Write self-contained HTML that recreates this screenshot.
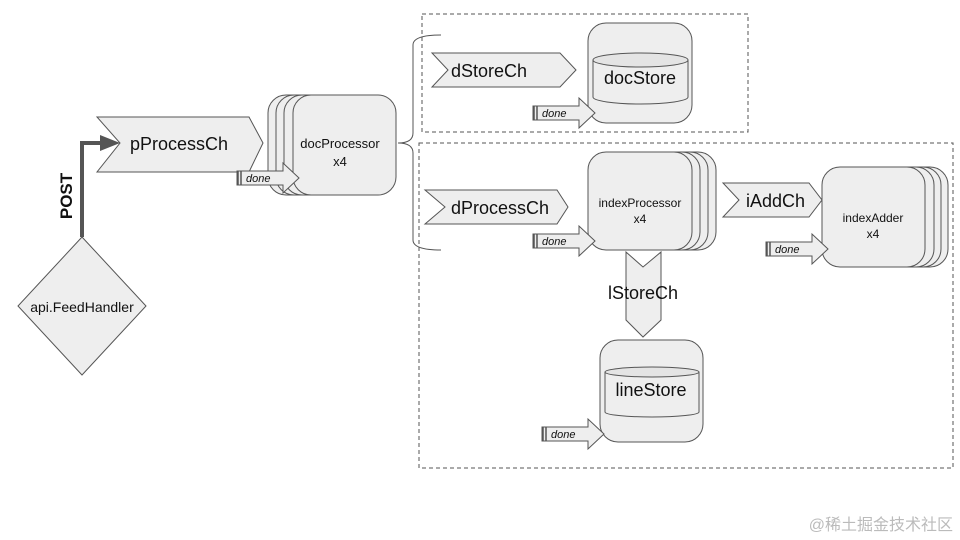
<!DOCTYPE html>
<html><head><meta charset="utf-8"><style>
html,body{margin:0;padding:0;background:#fff;width:960px;height:540px;overflow:hidden}
svg{display:block}
text{font-family:"Liberation Sans",Arial,sans-serif;fill:#111}
</style></head><body>
<svg width="960" height="540" viewBox="0 0 960 540" xmlns="http://www.w3.org/2000/svg">
<defs>
<g id="done">
<polygon points="0,-7 46,-7 46,-15 62,0 46,15 46,7 0,7" fill="#eee" stroke="#555" stroke-width="1"/>
<line x1="1" y1="-7" x2="1" y2="7" stroke="#555" stroke-width="1.5"/>
<line x1="4" y1="-7" x2="4" y2="7" stroke="#555" stroke-width="1.5"/>
<text x="9" y="4" font-size="11" font-style="italic">done</text>
</g>
</defs>
<g fill="#eee" stroke="#555" stroke-width="1">
<!-- dashed boxes -->
<rect x="422" y="14" width="326" height="118" fill="none" stroke-dasharray="4,3"/>
<rect x="419" y="143" width="534" height="325" fill="none" stroke-dasharray="4,3"/>
<!-- brace -->
<path d="M441,35 Q413,35 413,45 L413,133 Q413,143 398,143 Q413,143 413,153 L413,240 Q413,250 441,250" fill="none"/>
<!-- diamond -->
<polygon points="82,237 146,306 82,375 18,306"/>
<!-- pProcessCh -->
<polygon points="97,117 249,117 263,143 249,172 97,172 120,143"/>
<!-- docProcessor stack -->
<rect x="268" y="95" width="104" height="100" rx="18"/>
<rect x="276" y="95" width="104" height="100" rx="18"/>
<rect x="284" y="95" width="104" height="100" rx="18"/>
<rect x="293" y="95" width="103" height="100" rx="18"/>
<!-- dStoreCh -->
<polygon points="432,53 560,53 576,70 560,87 432,87 448,70"/>
<!-- docStore -->
<rect x="588" y="23" width="104" height="100" rx="18"/>
<path d="M593,60 L593,97 A47.5,7 0 0 0 688,97 L688,60" fill="#eee"/>
<ellipse cx="640.5" cy="60" rx="47.5" ry="7" fill="#e4e4e4"/>
<!-- dProcessCh -->
<polygon points="425,190 557,190 568,207 557,224 425,224 445,207"/>
<!-- indexProcessor stack -->
<rect x="612" y="152" width="104" height="98" rx="18"/>
<rect x="604" y="152" width="104" height="98" rx="18"/>
<rect x="596" y="152" width="104" height="98" rx="18"/>
<rect x="588" y="152" width="104" height="98" rx="18"/>
<!-- iAddCh -->
<polygon points="723,183 809,183 822,200 809,217 723,217 739,200"/>
<!-- indexAdder stack -->
<rect x="845" y="167" width="103" height="100" rx="18"/>
<rect x="838" y="167" width="103" height="100" rx="18"/>
<rect x="831" y="167" width="103" height="100" rx="18"/>
<rect x="822" y="167" width="103" height="100" rx="18"/>
<!-- lStoreCh -->
<polygon points="626,252 643,267 661,252 661,320 643,337 626,320"/>
<!-- lineStore -->
<rect x="600" y="340" width="103" height="102" rx="18"/>
<path d="M605,372 L605,412 A47,5 0 0 0 699,412 L699,372" fill="#eee"/>
<ellipse cx="652" cy="372" rx="47" ry="5" fill="#e4e4e4"/>
</g>
<!-- POST arrow -->
<path d="M82,237 L82,143 L102,143" fill="none" stroke="#555" stroke-width="4"/>
<polygon points="100,135 120,143 100,151" fill="#555"/>
<text transform="translate(72,196) rotate(-90)" font-size="17" font-weight="bold" text-anchor="middle">POST</text>
<!-- done arrows -->
<use href="#done" x="237" y="178"/>
<use href="#done" x="533" y="113"/>
<use href="#done" x="533" y="241"/>
<use href="#done" x="766" y="249"/>
<use href="#done" x="542" y="434"/>
<!-- labels -->
<text x="82" y="312" font-size="14" text-anchor="middle">api.FeedHandler</text>
<text x="130" y="150" font-size="18">pProcessCh</text>
<text x="340" y="148" font-size="13" text-anchor="middle">docProcessor</text>
<text x="340" y="166" font-size="13" text-anchor="middle">x4</text>
<text x="451" y="77" font-size="18">dStoreCh</text>
<text x="640" y="84" font-size="18" text-anchor="middle">docStore</text>
<text x="451" y="214" font-size="18">dProcessCh</text>
<text x="640" y="207" font-size="12" text-anchor="middle">indexProcessor</text>
<text x="640" y="223" font-size="12" text-anchor="middle">x4</text>
<text x="746" y="207" font-size="18">iAddCh</text>
<text x="873" y="222" font-size="12" text-anchor="middle">indexAdder</text>
<text x="873" y="238" font-size="12" text-anchor="middle">x4</text>
<text x="643" y="299" font-size="18" text-anchor="middle">lStoreCh</text>
<text x="651" y="396" font-size="18" text-anchor="middle">lineStore</text>
<text x="953" y="530" font-size="16" text-anchor="end" style="fill:#bbb;font-family:'Liberation Sans','Noto Sans CJK SC',sans-serif">@稀土掘金技术社区</text>
</svg>
</body></html>
